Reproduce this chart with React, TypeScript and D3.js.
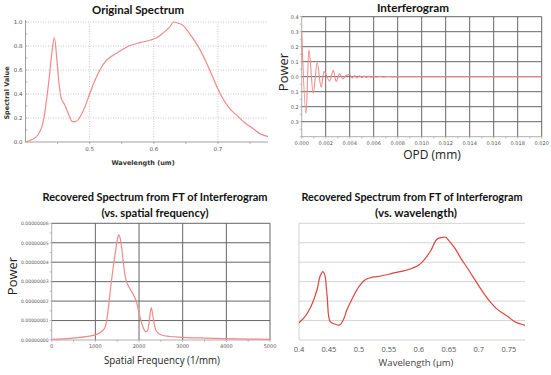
import React from 'react';
import * as d3 from 'd3';

// ---------- Data ----------
// Panel 1: Original Spectrum
const origWl = [0.4, 0.41, 0.419, 0.425, 0.429, 0.433, 0.437, 0.441, 0.445, 0.449, 0.452, 0.455, 0.462, 0.468, 0.473, 0.478, 0.484, 0.49, 0.5, 0.508, 0.517, 0.526, 0.533, 0.545, 0.561, 0.58, 0.595, 0.605, 0.615, 0.625, 0.631, 0.638, 0.646, 0.655, 0.664, 0.672, 0.682, 0.692, 0.7, 0.709, 0.718, 0.73, 0.742, 0.755, 0.765, 0.772, 0.778];
const origVal = [0.0, 0.02, 0.056, 0.12, 0.21, 0.36, 0.54, 0.74, 0.87, 0.68, 0.5, 0.38, 0.3, 0.22, 0.17, 0.17, 0.2, 0.26, 0.4, 0.51, 0.61, 0.68, 0.71, 0.75, 0.8, 0.83, 0.85, 0.87, 0.91, 0.96, 1.0, 0.99, 0.97, 0.91, 0.84, 0.77, 0.66, 0.54, 0.44, 0.35, 0.28, 0.22, 0.16, 0.11, 0.07, 0.055, 0.045];
const origXTicks = [0.5, 0.6, 0.7];
const origXMinor = [0.45, 0.55, 0.65, 0.75];
const origYTicks = [0.0, 0.2, 0.4, 0.6, 0.8, 1.0];

// Panel 2: Interferogram (extrema of the damped fringes)
const opd = [0, 0.00036, 0.0006, 0.00096, 0.00129, 0.00162, 0.00186, 0.00233, 0.00263, 0.00288, 0.00315, 0.00342, 0.0037, 0.004, 0.0042, 0.0044, 0.0046, 0.0048, 0.005, 0.0052, 0.0054, 0.0056, 0.0058, 0.006, 0.0062, 0.0065, 0.0068, 0.0072, 0.0076, 0.008, 0.02];
const power = [0.3, -0.245, 0.18, -0.11, 0.093, -0.07, 0.034, -0.03, 0.042, -0.032, 0.019, -0.015, 0.009, 0.014, -0.01, 0.007, -0.008, 0.006, -0.006, 0.005, -0.005, 0.004, -0.004, 0.003, -0.003, 0.002, -0.002, 0.0015, -0.001, 0.0, 0.0];
const opdTicks = [0, 0.002, 0.004, 0.006, 0.008, 0.01, 0.012, 0.014, 0.016, 0.018, 0.02];
const opdTickLabels = ['0.000', '0.002', '0.004', '0.006', '0.008', '0.010', '0.012', '0.014', '0.016', '0.018', '0.020'];
const powerTicks = [0.4, 0.3, 0.2, 0.1, 0.0, -0.1, -0.2, -0.3];
const powerTickLabels = ['0.4', '0.3', '0.2', '0.1', '0.0', '0.1', '0.2', '0.3'];

// Panel 3: Recovered vs spatial frequency (power in units of 1e-8)
const freq = [0, 500, 1000, 1150, 1220, 1260, 1300, 1350, 1400, 1450, 1500, 1530, 1560, 1600, 1650, 1700, 1750, 1800, 1900, 1950, 2000, 2050, 2100, 2150, 2200, 2240, 2280, 2320, 2360, 2400, 2500, 2700, 3000, 3500, 4000, 4500, 5000];
const freqPower = [0.03, 0.1, 0.26, 0.45, 0.65, 1.0, 1.7, 2.7, 3.6, 4.4, 5.1, 5.4, 5.3, 4.8, 3.8, 3.1, 2.8, 2.6, 2.2, 1.9, 1.4, 0.95, 0.6, 0.43, 0.5, 1.1, 1.67, 1.2, 0.7, 0.45, 0.27, 0.18, 0.14, 0.1, 0.07, 0.05, 0.03];
const freqTicks = [0, 1000, 2000, 3000, 4000, 5000];
const freqPowerTicks = [0, 1, 2, 3, 4, 5, 6];
const freqPowerLabels = ['0.00000000', '0.00000001', '0.00000002', '0.00000003', '0.00000004', '0.00000005', '0.00000006'];

// Panel 4: Recovered vs wavelength
const recWl = [0.4, 0.41, 0.42, 0.43, 0.435, 0.44, 0.443, 0.447, 0.452, 0.46, 0.468, 0.475, 0.48, 0.49, 0.5, 0.51, 0.52, 0.53, 0.55, 0.56, 0.58, 0.6, 0.61, 0.62, 0.63, 0.64, 0.645, 0.65, 0.66, 0.67, 0.68, 0.69, 0.7, 0.71, 0.72, 0.73, 0.74, 0.75, 0.76, 0.77, 0.777];
const recVal = [0.89, 1.2, 1.72, 2.57, 3.26, 3.52, 3.35, 2.23, 0.94, 0.82, 0.77, 1.11, 1.55, 2.2, 2.74, 3.09, 3.21, 3.26, 3.38, 3.46, 3.6, 3.86, 4.17, 4.6, 5.18, 5.28, 5.28, 5.11, 4.72, 4.2, 3.74, 3.26, 2.78, 2.32, 1.92, 1.6, 1.37, 1.17, 0.94, 0.82, 0.75];
const recXTicks = [0.4, 0.45, 0.5, 0.55, 0.6, 0.65, 0.7, 0.75];
const recXLabels = ['0.4', '0.45', '0.5', '0.55', '0.6', '0.65', '0.7', '0.75'];
const recYGrid = [1, 2, 3, 4, 5, 6];

const LIGHT_RED = '#f08a8a';
const DARK_RED = '#d9463f';
const TITLE_FONT = 'Lato, "Open Sans", sans-serif';
const LABEL_FONT = '"Open Sans", "DejaVu Sans", sans-serif';
const SMALL_FONT = '"DejaVu Sans", sans-serif';

function pathFrom(xs: number[], ys: number[], sx: any, sy: any, curve: any) {
  const pts: [number, number][] = xs.map((x, i) => [x, ys[i]]);
  return d3.line<[number, number]>().x(d => sx(d[0])).y(d => sy(d[1])).curve(curve)(pts) || '';
}

function Panel1() {
  const x = d3.scaleLinear().domain([0.4, 0.778]).range([25.5, 268]);
  const y = d3.scaleLinear().domain([0, 1]).range([142, 22]);
  const [x0, x1] = x.range();
  return (
    <g>
      <text x={138} y={14} textAnchor="middle" fontFamily={TITLE_FONT} fontWeight="bold" fontSize={12} textLength={92} lengthAdjust="spacingAndGlyphs" fill="#111">Original Spectrum</text>
      {origYTicks.slice(1).map(v => (
        <line key={'gy' + v} x1={x0} x2={x1} y1={y(v)} y2={y(v)} stroke="#bbb" strokeWidth={0.8} strokeDasharray="1,1.5" />
      ))}
      {origXTicks.map(v => (
        <line key={'gx' + v} x1={x(v)} x2={x(v)} y1={y(0)} y2={y(1)} stroke="#bbb" strokeWidth={0.8} strokeDasharray="1,1.5" />
      ))}
      <line x1={x0} x2={x0} y1={y(0)} y2={y(1) - 2} stroke="#888" strokeWidth={0.8} />
      <line x1={x0} x2={x1} y1={y(0)} y2={y(0)} stroke="#888" strokeWidth={0.8} />
      {d3.range(0, 1.01, 0.1).map(v => (
        <line key={'ty' + v} x1={x0} x2={x0 + 2} y1={y(v)} y2={y(v)} stroke="#888" strokeWidth={0.6} />
      ))}
      {origXTicks.concat(origXMinor).map(v => (
        <line key={'tx' + v} x1={x(v)} x2={x(v)} y1={y(0)} y2={y(0) + 2} stroke="#888" strokeWidth={0.6} />
      ))}
      {origYTicks.map(v => (
        <text key={'ly' + v} x={x0 - 3} y={y(v) + 2} textAnchor="end" fontFamily={SMALL_FONT} fontSize={5.5} fill="#555">{v.toFixed(1)}</text>
      ))}
      {origXTicks.map(v => (
        <text key={'lx' + v} x={x(v)} y={y(0) + 9} textAnchor="middle" fontFamily={SMALL_FONT} fontSize={5.5} fill="#555">{v.toFixed(1)}</text>
      ))}
      <text x={143} y={165} textAnchor="middle" fontFamily={SMALL_FONT} fontSize={6.5} fontWeight="bold" fill="#333">Wavelength (um)</text>
      <text transform={`translate(9,${93}) rotate(-90)`} textAnchor="middle" fontFamily={SMALL_FONT} fontSize={6.5} fontWeight="bold" fill="#333">Spectral Value</text>
      <path d={pathFrom(origWl, origVal, x, y, d3.curveMonotoneX)} fill="none" stroke={LIGHT_RED} strokeWidth={1.2} />
    </g>
  );
}

function Panel2() {
  const x = d3.scaleLinear().domain([0, 0.02]).range([301.7, 541.7]);
  const y = d3.scaleLinear().domain([-0.4, 0.4]).range([136.7, 16.7]);
  const [x0, x1] = x.range();
  return (
    <g>
      <text x={413} y={12} textAnchor="middle" fontFamily={TITLE_FONT} fontWeight="bold" fontSize={12} textLength={72} lengthAdjust="spacingAndGlyphs" fill="#111">Interferogram</text>
      {powerTicks.map(v => (
        <line key={'gy' + v} x1={x0} x2={x1} y1={y(v)} y2={y(v)} stroke="#666" strokeWidth={1} />
      ))}
      {opdTicks.slice(1).map(v => (
        <line key={'gx' + v} x1={x(v)} x2={x(v)} y1={y(-0.4)} y2={y(0.4)} stroke="#666" strokeWidth={1} />
      ))}
      <line x1={x0} x2={x0} y1={y(-0.4)} y2={y(0.4)} stroke="#999" strokeWidth={0.8} />
      <line x1={x0} x2={x1} y1={y(-0.4)} y2={y(-0.4)} stroke="#999" strokeWidth={0.8} />
      {d3.range(-0.4, 0.41, 0.05).map(v => (
        <line key={'ty' + v} x1={x0 - 2} x2={x0} y1={y(v)} y2={y(v)} stroke="#999" strokeWidth={0.6} />
      ))}
      {d3.range(0, 0.0201, 0.001).map(v => (
        <line key={'tx' + v} x1={x(v)} x2={x(v)} y1={y(-0.4)} y2={y(-0.4) + 2} stroke="#999" strokeWidth={0.6} />
      ))}
      {powerTicks.map((v, i) => (
        <text key={'ly' + v} x={x0 - 3} y={y(v) + 1.8} textAnchor="end" fontFamily={SMALL_FONT} fontSize={5} fill="#555">{powerTickLabels[i]}</text>
      ))}
      {opdTicks.map((v, i) => (
        <text key={'lx' + v} x={x(v)} y={y(-0.4) + 8} textAnchor="middle" fontFamily={SMALL_FONT} fontSize={5} fill="#555">{opdTickLabels[i]}</text>
      ))}
      <text x={432} y={159} textAnchor="middle" fontFamily={LABEL_FONT} fontSize={12} fill="#222">OPD (mm)</text>
      <text transform={`translate(288,${72}) rotate(-90)`} textAnchor="middle" fontFamily={LABEL_FONT} fontSize={13} fill="#222">Power</text>
      <path d={pathFrom(opd, power, x, y, d3.curveMonotoneX)} fill="none" stroke={LIGHT_RED} strokeWidth={1.1} />
    </g>
  );
}

function Panel3() {
  const x = d3.scaleLinear().domain([0, 5000]).range([51.7, 270]);
  const y = d3.scaleLinear().domain([0, 6]).range([340, 223.3]);
  const [x0, x1] = x.range();
  return (
    <g>
      <text x={155} y={201} textAnchor="middle" fontFamily={TITLE_FONT} fontWeight="bold" fontSize={10.5} textLength={225} lengthAdjust="spacingAndGlyphs" fill="#111">Recovered Spectrum from FT of Interferogram</text>
      <text x={155} y={217} textAnchor="middle" fontFamily={TITLE_FONT} fontWeight="bold" fontSize={11} textLength={107} lengthAdjust="spacingAndGlyphs" fill="#111">(vs. spatial frequency)</text>
      {freqPowerTicks.slice(1).map(v => (
        <line key={'gy' + v} x1={x0} x2={x1} y1={y(v)} y2={y(v)} stroke="#666" strokeWidth={1} />
      ))}
      {freqTicks.slice(1).map(v => (
        <line key={'gx' + v} x1={x(v)} x2={x(v)} y1={y(0)} y2={y(6)} stroke="#666" strokeWidth={1} />
      ))}
      <line x1={x0} x2={x0} y1={y(0)} y2={y(6)} stroke="#999" strokeWidth={0.8} />
      <line x1={x0} x2={x1} y1={y(0)} y2={y(0)} stroke="#999" strokeWidth={0.8} />
      {d3.range(0, 6.01, 0.5).map(v => (
        <line key={'ty' + v} x1={x0 - 2} x2={x0} y1={y(v)} y2={y(v)} stroke="#999" strokeWidth={0.6} />
      ))}
      {d3.range(0, 5001, 500).map(v => (
        <line key={'tx' + v} x1={x(v)} x2={x(v)} y1={y(0)} y2={y(0) + 2} stroke="#999" strokeWidth={0.6} />
      ))}
      {freqPowerTicks.map((v, i) => (
        <text key={'ly' + v} x={x0 - 3} y={y(v) + 1.8} textAnchor="end" fontFamily={SMALL_FONT} fontSize={4.6} fill="#666">{freqPowerLabels[i]}</text>
      ))}
      {freqTicks.map(v => (
        <text key={'lx' + v} x={x(v)} y={y(0) + 8} textAnchor="middle" fontFamily={SMALL_FONT} fontSize={5} fill="#555">{String(v)}</text>
      ))}
      <text x={162} y={364} textAnchor="middle" fontFamily={LABEL_FONT} fontSize={10.5} textLength={116} lengthAdjust="spacingAndGlyphs" fill="#222">Spatial Frequency (1/mm)</text>
      <text transform={`translate(17,${276}) rotate(-90)`} textAnchor="middle" fontFamily={LABEL_FONT} fontSize={13} fill="#222">Power</text>
      <path d={pathFrom(freq, freqPower, x, y, d3.curveMonotoneX)} fill="none" stroke={LIGHT_RED} strokeWidth={1.2} />
    </g>
  );
}

function Panel4() {
  const x = d3.scaleLinear().domain([0.4, 0.777]).range([299, 525]);
  const y = d3.scaleLinear().domain([0, 6]).range([340, 223.3]);
  const [x0, x1] = x.range();
  return (
    <g>
      <text x={412} y={201} textAnchor="middle" fontFamily={TITLE_FONT} fontWeight="bold" fontSize={10.5} textLength={221} lengthAdjust="spacingAndGlyphs" fill="#111">Recovered Spectrum from FT of Interferogram</text>
      <text x={416} y={217} textAnchor="middle" fontFamily={TITLE_FONT} fontWeight="bold" fontSize={11} textLength={82} lengthAdjust="spacingAndGlyphs" fill="#111">(vs. wavelength)</text>
      {recYGrid.map(v => (
        <line key={'gy' + v} x1={x0} x2={x1} y1={y(v)} y2={y(v)} stroke="#d4d4d4" strokeWidth={1} />
      ))}
      <line x1={x0} x2={x0} y1={y(0)} y2={y(6)} stroke="#d0d0d0" strokeWidth={1} />
      <line x1={x0} x2={x1} y1={y(0)} y2={y(0)} stroke="#d0d0d0" strokeWidth={1} />
      {recXTicks.map((v, i) => (
        <text key={'lx' + v} x={x(v)} y={y(0) + 12} textAnchor="middle" fontFamily={LABEL_FONT} fontSize={7.5} fill="#555">{recXLabels[i]}</text>
      ))}
      <text x={416} y={366} textAnchor="middle" fontFamily={LABEL_FONT} fontSize={9.5} fill="#444">Wavelength (µm)</text>
      <path d={pathFrom(recWl, recVal, x, y, d3.curveCatmullRom)} fill="none" stroke={DARK_RED} strokeWidth={1.2} />
    </g>
  );
}

export default function App() {
  return (
    <svg width={551} height={375} viewBox="0 0 551 375" style={{ position: 'absolute', left: 0, top: 0, background: '#fff' }}>
      <rect x={0} y={0} width={551} height={375} fill="#fff" />
      <Panel1 />
      <Panel2 />
      <Panel3 />
      <Panel4 />
    </svg>
  );
}
